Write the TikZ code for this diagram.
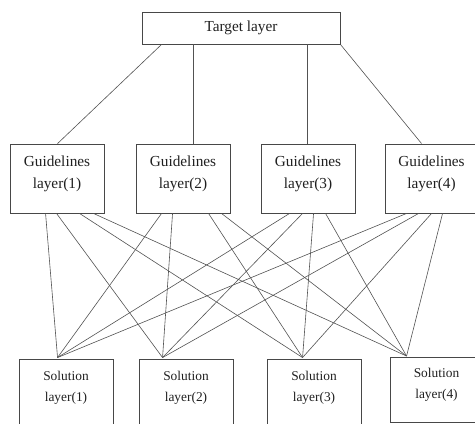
\documentclass[tikz,border=0pt]{standalone}
\usepackage{fontspec}
\setmainfont{Liberation Serif}
\begin{document}
\begin{tikzpicture}[x=1pt,y=-1pt,
  box/.style={draw=black!72, line width=0.9pt, rectangle, inner sep=0pt},
  gbox/.style={box, minimum width=94pt, minimum height=69pt},
  sbox/.style={box, minimum width=94pt, minimum height=72pt},
  gtext/.style={font=\fontsize{15.3}{22}\selectfont, align=center, text=black!88, inner sep=0pt},
  stext/.style={font=\fontsize{13.4}{21}\selectfont, align=center, text=black!88, inner sep=0pt},
  link/.style={draw=black!68, line width=0.6pt}]
\useasboundingbox (0,0) rectangle (475,424);
\clip (0,0) rectangle (475,424);

% target
\node[box, minimum width=198pt, minimum height=32pt, font=\fontsize{15.3}{18}\selectfont, text=black!88] (t) at (241,28) {Target layer};

% guidelines boxes
\node[gbox] (g1) at (57,178.5) {};
\node[gbox] (g2) at (183,178.5) {};
\node[gbox] (g3) at (308,178.5) {};
\node[gbox] (g4) at (432,178.5) {};
\node[gtext] (g1t) at (57,174) {Guidelines\\layer(1)};
\node[gtext] (g2t) at (183,174) {Guidelines\\layer(2)};
\node[gtext] (g3t) at (308,174) {Guidelines\\layer(3)};
\node[gtext] (g4t) at (431.5,174) {Guidelines\\layer(4)};

% solution boxes
\node[sbox] (s1) at (66,395) {};
\node[sbox] (s2) at (186,395) {};
\node[sbox] (s3) at (314,395) {};
\node[box, minimum width=94pt, minimum height=65pt] (s4) at (437,389.5) {};
\node[stext] (s1t) at (66,387.5) {Solution\\layer(1)};
\node[stext] (s2t) at (186,387.5) {Solution\\layer(2)};
\node[stext] (s3t) at (314,387.5) {Solution\\layer(3)};
\node[stext] (s4t) at (436.5,385) {Solution\\layer(4)};

% convergence points
\coordinate (p1) at ([xshift=39pt,yshift=1pt]s1.north west);
\coordinate (p2) at ([xshift=24pt,yshift=1pt]s2.north west);
\coordinate (p3) at ([xshift=36pt,yshift=1pt]s3.north west);
\coordinate (p4) at ([xshift=17pt,yshift=0.5pt]s4.north west);

% target to guidelines
\draw[link] ([xshift=20pt]t.south west) -- ([xshift=48pt]g1.north west);
\draw[link] ([xshift=52pt]t.south west) -- ([xshift=58pt]g2.north west);
\draw[link] ([xshift=166pt]t.south west) -- ([xshift=47pt]g3.north west);
\draw[link] (t.south east) -- ([xshift=37pt]g4.north west);

% guidelines to solutions
\draw[link] ([xshift=36pt]g1.south west) -- (p1);
\draw[link] ([xshift=47pt]g1.south west) -- (p2);
\draw[link] ([xshift=70pt]g1.south west) -- (p3);
\draw[link] ([xshift=84pt]g1.south west) -- (p4);

\draw[link] ([xshift=26pt]g2.south west) -- (p1);
\draw[link] ([xshift=37pt]g2.south west) -- (p2);
\draw[link] ([xshift=73pt]g2.south west) -- (p3);
\draw[link] ([xshift=86pt]g2.south west) -- (p4);

\draw[link] ([xshift=29pt]g3.south west) -- (p1);
\draw[link] ([xshift=42pt]g3.south west) -- (p2);
\draw[link] ([xshift=53pt]g3.south west) -- (p3);
\draw[link] ([xshift=65pt]g3.south west) -- (p4);

\draw[link] ([xshift=22pt]g4.south west) -- (p1);
\draw[link] ([xshift=34pt]g4.south west) -- (p2);
\draw[link] ([xshift=47pt]g4.south west) -- (p3);
\draw[link] ([xshift=58pt]g4.south west) -- (p4);
\end{tikzpicture}
\end{document}
